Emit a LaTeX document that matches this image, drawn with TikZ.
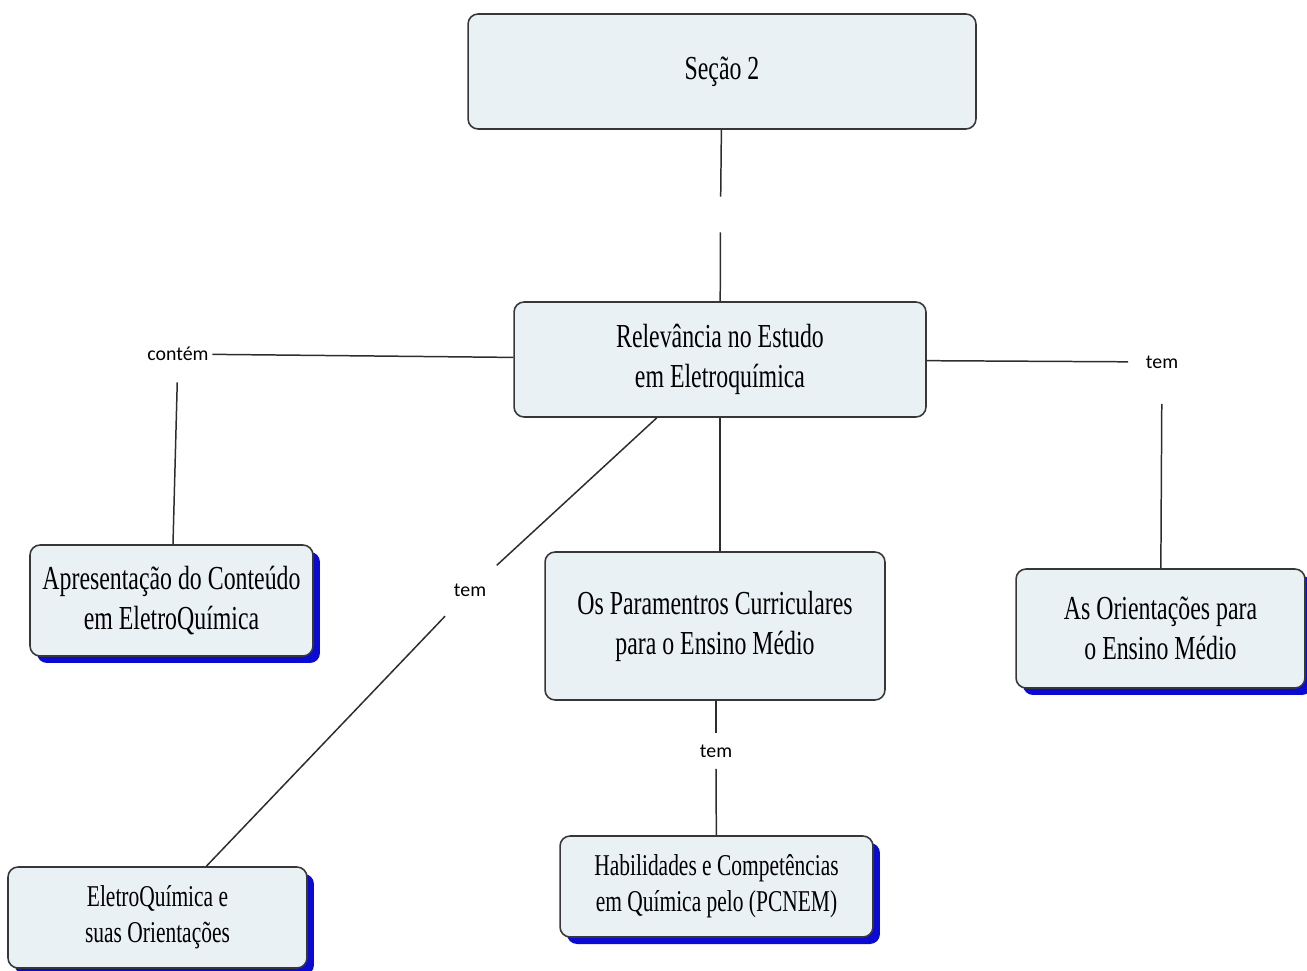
\documentclass[tikz,border=0pt]{standalone}
\usepackage{fontspec}
\setmainfont[FakeStretch=0.71]{Liberation Serif}
\newfontfamily\lblfont{Carlito}
\usetikzlibrary{shadows}
\definecolor{boxfill}{RGB}{234,241,244}
\definecolor{boxline}{RGB}{55,55,55}
\definecolor{linecol}{RGB}{45,45,45}
\definecolor{shadowblue}{RGB}{10,10,210}
\tikzset{
  box/.style={draw=boxline, fill=boxfill, rounded corners=0.2cm, line width=0.9pt,
    align=center, inner sep=0pt, font=\fontsize{19.1}{22.8}\selectfont},
  smallbox/.style={box, font=\fontsize{17.2}{20.5}\selectfont},
  shad/.style={drop shadow={shadow xshift=0.14cm, shadow yshift=-0.14cm, fill=shadowblue, opacity=1}},
  lbl/.style={font=\lblfont\fontsize{11.3}{13}\selectfont, inner xsep=2pt, inner ysep=0pt, minimum height=0.7cm},
  gapnode/.style={inner sep=0pt, minimum height=0.7cm, minimum width=0pt},
  conn/.style={draw=linecol, line width=0.85pt},
}
\begin{document}
\begin{tikzpicture}[x=0.02cm,y=-0.02cm]
\useasboundingbox (0,0) rectangle (1307,970);
% nodes
\node[box, minimum width=10.16cm, minimum height=2.3cm] (sec) at (722,71.5) {Seção 2};
\node[box, minimum width=8.24cm, minimum height=2.3cm] (rel) at (720,359.5) {Relevância no Estudo\\em Eletroquímica};
\node[box, shad, minimum width=5.66cm, minimum height=2.22cm] (apr) at (171.5,600.5) {Apresentação do Conteúdo\\em EletroQuímica};
\node[smallbox, shad, minimum width=5.98cm, minimum height=2.02cm] (ele) at (157.5,917.5) {EletroQuímica e\\suas Orientações};
\node[box, minimum width=6.8cm, minimum height=2.96cm] (par) at (715,626) {Os Paramentros Curriculares\\para o Ensino Médio};
\node[smallbox, shad, minimum width=6.26cm, minimum height=2.02cm] (hab) at (716.5,886.5) {Habilidades e Competências\\em Química pelo (PCNEM)};
\node[box, shad, minimum width=5.78cm, minimum height=2.38cm] (ori) at (1160.5,628.5) {As Orientações para\\o Ensino Médio};
% labels
\node[gapnode] (g) at (720.5,214.5) {};
\node[lbl] (con) at (178,354) {contém};
\node[lbl] (tl) at (470,590) {tem};
\node[lbl] (tm) at (716,751) {tem};
\node[lbl] (tr) at (1162,362) {tem};
% connectors
\draw[conn] (sec) -- (g);
\draw[conn] (g) -- (rel);
\draw[conn] (con) -- (rel);
\draw[conn, shorten <=0.21cm] (con) -- (apr);
\draw[conn, shorten >=0.2cm] (rel) -- (tl);
\draw[conn, shorten <=0.23cm] (tl) -- (ele);
\draw[conn] (rel.south) -- (rel.south |- par.north);
\draw[conn] (par.south -| tm.north) -- (tm);
\draw[conn] (tm) -- (hab);
\draw[conn, shorten >=0.28cm] (rel) -- (tr);
\draw[conn, shorten <=0.48cm] (tr) -- (ori);
\end{tikzpicture}
\end{document}
